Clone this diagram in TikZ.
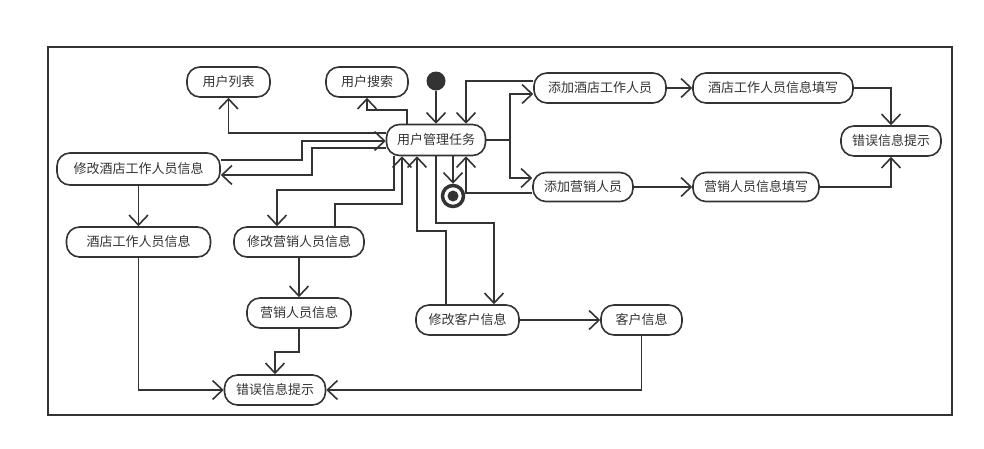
\documentclass[tikz,border=0pt]{standalone}
\usepackage{fontspec}
\newfontfamily\cjk{Noto Sans CJK SC}
\usetikzlibrary{arrows.meta}
\definecolor{ln}{HTML}{333333}
\definecolor{txt}{HTML}{333333}
\tikzset{
  act/.style={draw=ln, line width=1.6pt, rounded corners=13pt, minimum height=30pt,
    inner sep=0pt, font=\cjk\fontsize{13}{13}\selectfont, text=txt, fill=white},
  arr/.style={draw=ln, line width=1.6pt, -{Straight Barb[length=10pt,width=19pt]}},
  plain/.style={draw=ln, line width=1.6pt}
}
\begin{document}
\begin{tikzpicture}[x=1pt,y=-1pt]
\useasboundingbox (0,0) rectangle (984,448);
\draw[plain] (48,47) rectangle (952,415);
% nodes
\node[act, minimum width=83pt] (ulist) at (228.5,82) {用户列表};
\node[act, minimum width=82pt] (usearch) at (367,82) {用户搜索};
\node[circle, fill=ln, minimum size=19pt, inner sep=0pt] (init) at (436,81) {};
\node[act, minimum width=99pt, minimum height=31pt] (task) at (436,140) {用户管理任务};
\node[act, minimum width=132pt] (addhotel) at (600,88) {添加酒店工作人员};
\node[act, minimum width=160pt] (hotelfill) at (773,88) {酒店工作人员信息填写};
\node[act, minimum width=100pt] (errR) at (891,141) {错误信息提示};
\node[act, minimum width=100pt, minimum height=29pt] (addsales) at (583,187) {添加营销人员};
\node[act, minimum width=126pt, minimum height=29pt] (salesfill) at (756,187) {营销人员信息填写};
\node[circle, draw=ln, line width=3.5pt, fill=white, minimum size=21pt, inner sep=0pt] (final) at (453,196) {};
\fill[ln] (final.center) circle (5.5pt);
\node[act, minimum width=163pt, minimum height=32pt] (modhotel) at (138.5,169) {修改酒店工作人员信息};
\node[act, minimum width=144pt] (hotelinfo) at (138.5,242) {酒店工作人员信息};
\node[act, minimum width=130pt] (modsales) at (299,242) {修改营销人员信息};
\node[act, minimum width=104pt] (salesinfo) at (299,313) {营销人员信息};
\node[act, minimum width=101pt] (errB) at (275,390) {错误信息提示};
\node[act, minimum width=103pt] (modcust) at (467.5,320) {修改客户信息};
\node[act, minimum width=81pt] (custinfo) at (641.5,320) {客户信息};
% connectors
\draw[arr] (init.south) -- (task.north);
\draw[arr] (task.west |- 0,133) -| (ulist.south);
\draw[arr] (task.north -| 407,0) |- (usearch.south |- 0,110) -- (usearch.south);
\draw[arr] (modhotel.east |- 0,160) -| (302,141) -- (task.west |- 0,141);
\draw[arr] (task.west |- 0,148) -| (312,175) -- (modhotel.east |- 0,175);
\draw[arr] (task.south -| 394,0) |- (277,190) -- (modsales.north -| 277,0);
\draw[arr] (modsales.north -| 335,0) |- (402,204) -- (task.south -| 402,0);
\draw[arr] (modcust.north -| 446,0) |- (417,231) -- (task.south -| 417,0);
\draw[arr] (task.south -| 436,0) |- (494,223) -- (modcust.north -| 494,0);
\draw[arr] (task.south -| 453,0) -- (final.north);
\draw[arr] (addsales.west |- 0,193) -| (task.south -| 466,0);
\draw[arr] (addhotel.west |- 0,81) -| (task.north -| 466,0);
\draw[arr] (task.east) -- (task.east -| 510,0) |- (addhotel.west |- 0,94);
\draw[arr] (task.east) -- (task.east -| 510,0) |- (addsales.west |- 0,178);
\draw[arr] (addhotel.east) -- (hotelfill.west);
\draw[arr] (hotelfill.east) -| (errR.north);
\draw[arr] (addsales.east) -- (salesfill.west);
\draw[arr] (salesfill.east) -| (errR.south);
\draw[arr] (modhotel.south) -- (hotelinfo.north);
\draw[arr] (hotelinfo.south) |- (errB.west);
\draw[arr] (modsales.south) -- (salesinfo.north);
\draw[arr] (salesinfo.south) |- (errB.north |- 0,352) -- (errB.north);
\draw[arr] (modcust.east) -- (custinfo.west);
\draw[arr] (custinfo.south) |- (errB.east);
\end{tikzpicture}
\end{document}
